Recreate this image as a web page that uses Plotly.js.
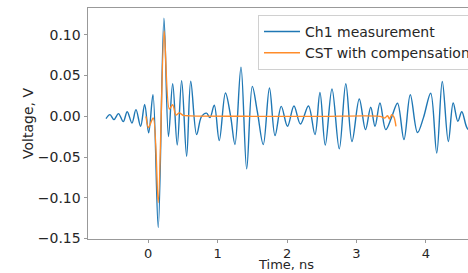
<!DOCTYPE html>
<html>
<head>
<meta charset="utf-8">
<script src="https://cdn.plot.ly/plotly-3.0.1.min.js"></script>
<style>
html,body{margin:0;padding:0;overflow:hidden;background:#fff;}
#chart{width:520px;height:273px;}
</style>
</head>
<body>
<div id="chart"></div>
<script>
const measTime = [-0.608,-0.552,-0.494,-0.429,-0.360,-0.303,-0.235,-0.177,-0.110,-0.052,0.006,0.068,0.144,0.226,0.291,0.352,0.418,0.481,0.553,0.612,0.697,0.767,0.839,0.889,0.951,1.023,1.112,1.187,1.249,1.336,1.418,1.499,1.571,1.657,1.746,1.826,1.916,2.006,2.099,2.193,2.308,2.402,2.474,2.550,2.647,2.752,2.846,2.935,3.040,3.130,3.205,3.267,3.338,3.421,3.504,3.591,3.684,3.775,3.879,3.965,4.069,4.156,4.236,4.323,4.393,4.460,4.517,4.592,4.660];
const measVolt = [-0.0028,0.0021,-0.0040,0.0033,-0.0065,0.0057,-0.0081,0.0082,-0.0122,0.0147,-0.0203,0.0265,-0.1364,0.1203,-0.0248,0.0400,-0.0352,0.0436,-0.0489,0.0430,-0.0224,-0.0004,0.0039,-0.0016,0.0137,-0.0297,0.0286,0.0000,-0.0346,0.0604,-0.0645,0.0367,0.0061,-0.0346,0.0347,-0.0236,0.0122,-0.0122,0.0127,-0.0095,0.0127,-0.0224,0.0293,-0.0352,0.0335,-0.0399,0.0400,-0.0309,0.0213,-0.0163,0.0112,-0.0122,0.0164,-0.0163,-0.0016,0.0161,-0.0285,0.0265,-0.0199,-0.0016,0.0284,-0.0450,0.0428,-0.0309,0.0164,-0.0061,0.0057,-0.0142,-0.0200];

// CST with compensation
const cstTime = [-0.033,0.003,0.072,0.144,0.229,0.303,0.352,0.399,0.447,0.504,0.601,1.5,2.5,3.338,3.409,3.447,3.475,3.507,3.540,3.569];
const cstVolt = [0.0,-0.0138,-0.0020,-0.1059,0.1048,0.0090,0.0143,0.0015,0.0042,0.0012,0.0006,0.0,0.0,0.0,-0.0020,0.0009,-0.0032,0.0021,-0.0010,-0.0122];

const xTicks = [0,1,2,3,4];
const yTicks = [-0.15,-0.10,-0.05,0.00,0.05,0.10];

const font = {family:'DejaVu Sans, sans-serif', size:14, color:'#262626'};
const xfont = {family:'DejaVu Sans, sans-serif', size:13, color:'#262626'};
const tfont = {family:'DejaVu Sans, sans-serif', size:13, color:'#262626'};

const traces = [
  {x: measTime, y: measVolt, name:'Ch1 measurement', mode:'lines',
   line:{color:'#1f77b4', width:1.4, shape:'spline', smoothing:1}},
  {x: cstTime, y: cstVolt, name:'CST with compensation', mode:'lines',
   line:{color:'#ff8c2a', width:1.4, shape:'spline', smoothing:0.8}}
];

const layout = {
  width:520, height:273,
  margin:{l:88, r:36, t:8, b:34},
  paper_bgcolor:'#fff', plot_bgcolor:'#fff',
  font: font,
  showlegend:true,
  xaxis:{range:[-0.868,4.837], tickvals:xTicks, ticktext:xTicks.map(String),
    showgrid:false, zeroline:false, showline:true, mirror:true, linecolor:'#999', linewidth:1,
    ticks:'outside', ticklen:2.5, tickcolor:'#999', tickfont:xfont, automargin:false},
  yaxis:{range:[-0.1505,0.1329], tickvals:yTicks, ticktext:yTicks.map(v=>v.toFixed(2).replace('-','\u2212')),
    showgrid:false, zeroline:false, showline:true, mirror:true, linecolor:'#999', linewidth:1,
    ticks:'outside', ticklen:3.5, tickcolor:'#999', tickfont:font, automargin:false,
    title:{text:'Voltage, V', font:font}},
  annotations:[{text:'Time, ns', xref:'paper', yref:'paper', x:0.5, y:-0.1472,
    xanchor:'center', yanchor:'bottom', showarrow:false, font:tfont, borderpad:0}],
  legend:{x:0.4293, y:0.97, xanchor:'left', yanchor:'top', itemwidth:36,
    bgcolor:'rgba(255,255,255,0.8)', bordercolor:'#d0d0d0', borderwidth:1, font:font}
};

Plotly.newPlot('chart', traces, layout, {displayModeBar:false, staticPlot:true});
</script>
</body>
</html>
